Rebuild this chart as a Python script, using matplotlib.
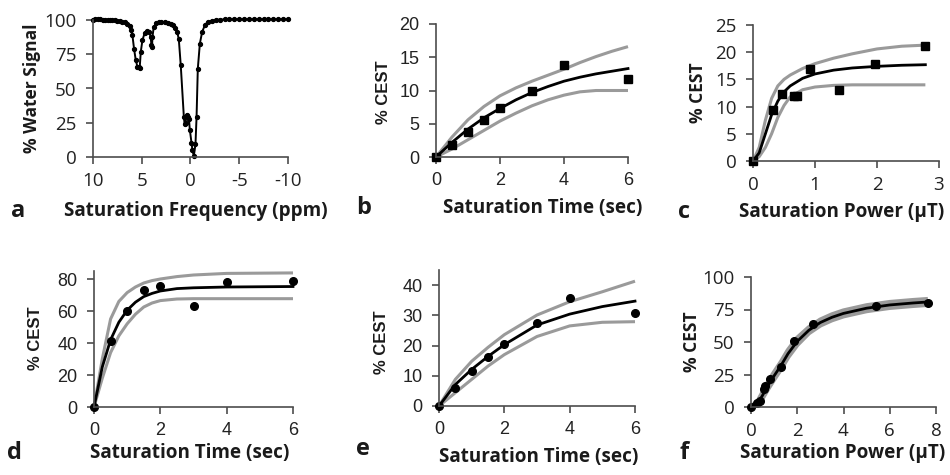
import matplotlib
matplotlib.use("Agg")
import matplotlib.pyplot as plt

plt.rcParams["axes.unicode_minus"] = False

# ---- panel a: Z-spectrum ----
a_ppm = [10.0, 9.75, 9.5, 9.25, 9.0, 8.75, 8.5, 8.25, 8.0, 7.75, 7.5, 7.25, 7.0, 6.75,
         6.5, 6.25, 6.1, 5.96, 5.79, 5.62, 5.45, 5.3, 5.21, 5.1, 4.93, 4.69, 4.45,
         4.25, 4.08, 4.01, 3.95, 3.9, 3.77, 3.49, 3.2, 2.98, 2.6, 2.29, 2.0, 1.78,
         1.55, 1.37, 1.2, 1.0, 0.68, 0.6, 0.51, 0.41, 0.33, 0.24, 0.16, 0.07, -0.1,
         -0.2, -0.34, -0.51, -0.62, -0.75, -0.96, -1.2, -1.5, -1.8, -2.2, -2.6,
         -3.0, -3.5, -4.0, -4.5, -5.0, -5.5, -6.0, -6.5, -7.0, -7.5, -8.0, -8.5,
         -9.0, -9.5, -10.0]
a_signal = [100.3, 100.4, 100.4, 100.4, 100.3, 100.2, 100.1, 100.0, 99.9, 99.7, 99.5,
            99.2, 98.8, 98.2, 97.3, 95.5, 93.0, 89.0, 79.0, 71.0, 66.0, 65.5, 65.2,
            76.7, 85.3, 90.7, 92.2, 91.4, 87.7, 81.6, 80.0, 87.7, 95.0, 97.5, 98.2,
            98.3, 98.3, 98.0, 97.3, 96.3, 94.0, 91.4, 86.0, 67.0, 29.0, 24.0, 24.5,
            31.0, 30.0, 29.0, 27.7, 20.0, 10.5, 5.0, 0.7, 9.3, 29.0, 64.5, 82.8,
            91.5, 96.5, 98.8, 99.5, 100.0, 100.3, 100.4, 100.5, 100.5, 100.5, 100.5,
            100.5, 100.5, 100.5, 100.5, 100.5, 100.5, 100.5, 100.5, 100.5]

# ---- panel b: % CEST vs saturation time ----
b_t = [0, 0.5, 1, 1.5, 2, 3, 4, 6]
b_cest = [0, 1.8, 3.7, 5.6, 7.3, 9.9, 13.9, 11.8]
b_fit_t = [0, 0.5, 1, 1.5, 2, 2.5, 3, 3.5, 4, 4.5, 5, 5.5, 6]
b_fit = [0, 2.2, 4.2, 5.9, 7.3, 8.6, 9.7, 10.6, 11.4, 12.0, 12.5, 12.9, 13.3]
b_hi = [0, 3.0, 5.6, 7.6, 9.2, 10.4, 11.4, 12.3, 13.2, 14.2, 15.1, 15.9, 16.6]
b_lo = [0, 1.2, 2.6, 4.0, 5.4, 6.6, 7.7, 8.6, 9.3, 9.8, 10.0, 10.0, 10.0]

# ---- panel c: % CEST vs saturation power ----
c_p = [0, 0.33, 0.46, 0.66, 0.71, 0.92, 1.39, 1.96, 2.78]
c_cest = [0, 9.4, 12.4, 12.0, 12.0, 16.9, 13.0, 17.8, 21.1]
c_fit_p = [0, 0.1, 0.2, 0.3, 0.4, 0.5, 0.6, 0.8, 1.0, 1.3, 1.6, 2.0, 2.4, 2.78]
c_fit = [0, 1.5, 5.0, 8.5, 11.0, 12.7, 13.8, 15.2, 16.0, 16.7, 17.1, 17.4, 17.6, 17.7]
c_hi = [0, 2.5, 7.5, 11.5, 13.8, 15.0, 15.8, 17.0, 17.9, 18.9, 19.7, 20.6, 21.1, 21.3]
c_lo = [0, 0.8, 2.5, 5.0, 8.0, 10.2, 11.8, 13.1, 13.6, 13.9, 14.0, 14.0, 14.0, 14.0]

# ---- panel d ----
d_t = [0, 0.5, 1, 1.5, 2, 3, 4, 6]
d_cest = [0, 41, 60.3, 73.2, 75.9, 63, 78, 78.6]
d_fit_t = [0, 0.25, 0.5, 0.75, 1, 1.25, 1.5, 1.75, 2, 2.5, 3, 4, 6]
d_fit = [0, 25, 42, 53, 60.5, 65.5, 69, 71, 72.5, 74, 74.5, 75, 75.3]
d_hi = [0, 30, 55, 66, 71.5, 75, 77.5, 79, 80, 81.5, 82.5, 83.5, 83.8]
d_lo = [0, 18, 34, 44.5, 52, 58, 62.5, 65, 66.5, 67.5, 67.7, 67.7, 67.7]

# ---- panel e ----
e_t = [0, 0.5, 1, 1.5, 2, 3, 4, 6]
e_cest = [0, 5.8, 11.5, 16.1, 20.6, 27.4, 35.6, 30.9]
e_fit_t = [0, 0.5, 1, 1.5, 2, 3, 4, 5, 6]
e_fit = [0, 7.1, 12.1, 16.4, 20.3, 26.8, 30.4, 32.9, 34.7]
e_hi = [0, 8.8, 14.8, 19.4, 23.6, 30.1, 34.5, 37.8, 41.3]
e_lo = [0, 4.4, 8.8, 13.2, 17.0, 23.0, 26.5, 27.7, 27.9]

# ---- panel f ----
f_p = [0, 0.26, 0.38, 0.55, 0.62, 0.84, 1.3, 1.86, 2.67, 5.4, 7.65]
f_cest = [0, 3, 5, 14, 16.5, 21.5, 31, 51, 64, 77.7, 80.3]
f_fit_p = [0, 0.3, 0.5, 0.75, 1, 1.3, 1.6, 2, 2.5, 3, 3.5, 4, 5, 6, 7, 7.65]
f_fit = [0, 3, 9, 17, 24, 32, 41, 50.5, 59, 65, 69, 72, 76, 78.5, 80, 80.8]
f_hi = [0, 4.5, 11, 19.5, 26.5, 34.5, 43.5, 53, 61, 67, 71, 74, 78, 80.5, 82, 82.8]
f_lo = [0, 1.5, 7, 14.5, 21.5, 29.5, 38.5, 48, 57, 63, 67, 70, 74, 76.5, 78, 78.8]

W, H = 950, 475
fig = plt.figure(figsize=(9.5, 4.75), dpi=100)

ARIAL = "Liberation Sans"
CALIBRI = "Open Sans"
AXC = "#4d4d4d"
GRAY = "#9a9a9a"


def px_axes(left, top, right, bottom):
    return fig.add_axes([left / W, 1 - bottom / H, (right - left) / W, (bottom - top) / H])


def style(ax, font, size):
    for s in ("top", "right"):
        ax.spines[s].set_visible(False)
    for s in ("left", "bottom"):
        ax.spines[s].set_color(AXC)
        ax.spines[s].set_linewidth(1.2)
    ax.tick_params(direction="out", length=5, width=1.2, color=AXC,
                   labelsize=size, labelcolor="#222222")
    ax.tick_params(axis="x", pad=6)
    ax.tick_params(axis="y", pad=7)
    for lab in ax.get_xticklabels() + ax.get_yticklabels():
        lab.set_fontfamily(font)
    ax.patch.set_alpha(0)


def label(x, y, s, font, size, rot=0):
    fig.text(x / W, 1 - y / H, s, ha="center", va="center", rotation=rot,
             fontfamily=font, fontweight="bold", fontsize=size, color="#1a1a1a")


def fit_panel(ax, xs, ys, fx, fit, hi, lo, marker, ms, glw=2.2):
    ax.plot(fx, hi, color=GRAY, lw=glw, solid_capstyle="butt", clip_on=False)
    ax.plot(fx, lo, color=GRAY, lw=glw, solid_capstyle="butt", clip_on=False)
    ax.plot(fx, fit, color="black", lw=2.0, clip_on=False)
    ax.plot(xs, ys, ls="none", marker=marker, ms=ms, color="black", clip_on=False)


TICK_C = 13.5
TICK_A = 13
XL = 13.6
PL = 17

# panel a
ax = px_axes(93, 20, 288, 157)
ax.plot(a_ppm, a_signal, color="black", lw=1.4, marker="o", ms=2.8, clip_on=False)
ax.set_xlim(10, -10)
ax.set_ylim(0, 100)
ax.set_xticks([10, 5, 0, -5, -10])
ax.set_yticks([0, 25, 50, 75, 100])
style(ax, CALIBRI, TICK_C)
label(32, 88, "% Water Signal", CALIBRI, 12.5, 90)
label(196, 211, "Saturation Frequency (ppm)", CALIBRI, XL)
label(18, 211, "a", CALIBRI, PL)

# panel b
ax = px_axes(436, 24, 628, 157)
fit_panel(ax, b_t, b_cest, b_fit_t, b_fit, b_hi, b_lo, "s", 5.5)
ax.set_xlim(0, 6)
ax.set_ylim(0, 20)
ax.set_xticks([0, 2, 4, 6])
ax.set_yticks([0, 5, 10, 15, 20])
style(ax, ARIAL, TICK_A)
label(383, 92, "% CEST", ARIAL, 12, 90)
label(543, 208, "Saturation Time (sec)", CALIBRI, XL)
label(364, 208, "b", CALIBRI, PL)

# panel c
ax = px_axes(753, 25, 939, 161)
fit_panel(ax, c_p, c_cest, c_fit_p, c_fit, c_hi, c_lo, "s", 5.5)
ax.set_xlim(0, 3)
ax.set_ylim(0, 25)
ax.set_xticks([0, 1, 2, 3])
ax.set_yticks([0, 5, 10, 15, 20, 25])
style(ax, CALIBRI, TICK_C)
label(698, 93, "% CEST", CALIBRI, 12.5, 90)
label(842, 212, "Saturation Power (\u03bcT)", CALIBRI, XL)
label(684, 212, "c", CALIBRI, PL)

# panel d
ax = px_axes(94, 271, 293, 407)
fit_panel(ax, d_t, d_cest, d_fit_t, d_fit, d_hi, d_lo, "o", 5.5)
ax.set_xlim(0, 6)
ax.set_ylim(0, 85)
ax.set_xticks([0, 2, 4, 6])
ax.set_yticks([0, 20, 40, 60, 80])
style(ax, ARIAL, TICK_A)
label(35, 338, "% CEST", ARIAL, 12, 90)
label(190, 453, "Saturation Time (sec)", CALIBRI, XL)
label(14, 453, "d", CALIBRI, PL)

# panel e
ax = px_axes(439, 270, 635, 406)
fit_panel(ax, e_t, e_cest, e_fit_t, e_fit, e_hi, e_lo, "o", 5.5)
ax.set_xlim(0, 6)
ax.set_ylim(0, 45)
ax.set_xticks([0, 2, 4, 6])
ax.set_yticks([0, 10, 20, 30, 40])
style(ax, ARIAL, TICK_A)
label(382, 342, "% CEST", ARIAL, 12, 90)
label(539, 457, "Saturation Time (sec)", CALIBRI, XL)
label(363, 449, "e", CALIBRI, PL)

# panel f
ax = px_axes(751, 277, 936, 407)
fit_panel(ax, f_p, f_cest, f_fit_p, f_fit, f_hi, f_lo, "o", 5.5, glw=3.5)
ax.set_xlim(0, 8)
ax.set_ylim(0, 100)
ax.set_xticks([0, 2, 4, 6, 8])
ax.set_yticks([0, 25, 50, 75, 100])
style(ax, CALIBRI, TICK_C)
label(692, 342, "% CEST", CALIBRI, 12.5, 90)
label(843, 453, "Saturation Power (\u03bcT)", CALIBRI, XL)
label(684, 453, "f", CALIBRI, PL)

fig.savefig("out.png", dpi=100)
